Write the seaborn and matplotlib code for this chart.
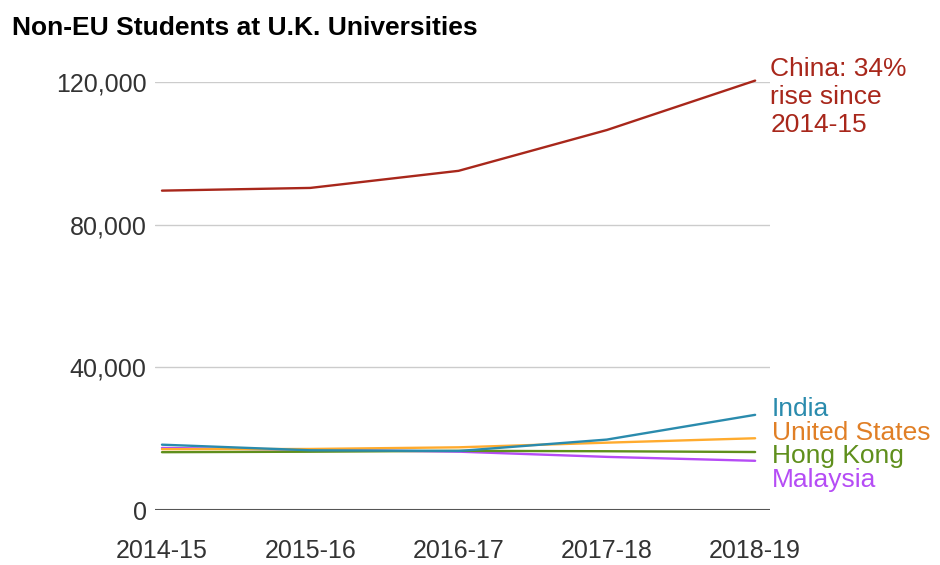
import seaborn as sns
import matplotlib.pyplot as plt
import pandas as pd

# values
years = ["2014-15", "2015-16", "2016-17", "2017-18", "2018-19"]
china = [89540, 90300, 95090, 106530, 120385]
india = [18320, 16750, 16550, 19750, 26685]
united_states = [17060, 17115, 17580, 18885, 20120]
hong_kong = [16215, 16350, 16595, 16480, 16260]
malaysia = [17400, 16900, 16360, 14900, 13800]

countries = ["China", "India", "United States", "Hong Kong", "Malaysia"]
line_colors = ["#a8271b", "#2a8bad", "#ffab2e", "#5f8f1c", "#b54cf5"]
label_colors = ["#a8271b", "#2a8bad", "#e07f26", "#5f8f1c", "#b54cf5"]
labels = ["China: 34%\nrise since\n2014-15", "India", "United States", "Hong Kong", "Malaysia"]
yticks = [0, 40000, 80000, 120000]

series = [china, india, united_states, hong_kong, malaysia]
rows = []
for name, vals in zip(countries, series):
    for i, v in enumerate(vals):
        rows.append({"year": i, "country": name, "students": v})
df = pd.DataFrame(rows)

sns.set_theme(style="white")
plt.rcParams["font.family"] = ["Liberation Sans", "DejaVu Sans"]

fig = plt.figure(figsize=(9.4, 5.65), dpi=100)
ax = fig.add_axes([0.1649, 0.0973, 0.8191 - 0.1649, 0.8549 - 0.0973])

for y in yticks[1:]:
    ax.axhline(y, color="#cccccc", lw=1, zorder=0)
ax.axhline(0, color="#555555", lw=1.5, zorder=0)

sns.lineplot(data=df, x="year", y="students", hue="country",
             palette=dict(zip(countries, line_colors)), hue_order=countries[::-1],
             linewidth=1.7, legend=False, ax=ax, clip_on=False)

ax.set_xlim(-0.047, 4.1)
ax.set_ylim(0, 120000)
ax.set_xticks(range(len(years)))
ax.set_xticklabels(years)
ax.set_yticks(yticks)
ax.set_yticklabels([f"{v:,}" for v in yticks])
ax.tick_params(axis="both", labelsize=18, colors="#333333", length=0)
ax.tick_params(axis="y", pad=6)
ax.tick_params(axis="x", pad=21)
ax.set_xlabel("")
ax.set_ylabel("")
for s in ax.spines.values():
    s.set_visible(False)

# end labels, offsets in points
offsets = [(11, 17), (12, 4.3), (12, 3.6), (12, -2.9), (12, -13.7)]
for name, vals, lab, col, off in zip(countries, series, labels, label_colors, offsets):
    va = "top" if name == "China" else "center"
    ax.annotate(lab, xy=(4, vals[-1]), xytext=off, textcoords="offset points",
                ha="left", va=va, fontsize=19, color=col, linespacing=1.22,
                annotation_clip=False)

fig.text(0.013, 0.95, "Non-EU Students at U.K. Universities", fontsize=19,
         fontweight="bold", color="black", ha="left", va="center")

fig.savefig("out.png", dpi=100)
